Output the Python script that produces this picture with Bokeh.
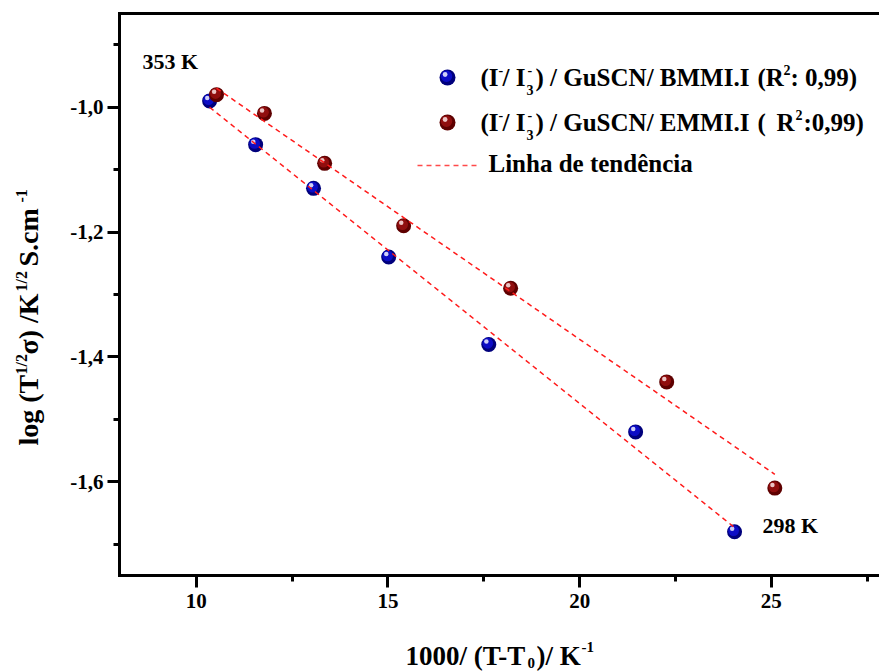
import numpy as np
from bokeh.plotting import figure
from bokeh.models import Range1d, LinearAxis, FixedTicker, Label, CustomJSTickFormatter
from bokeh.embed import file_html
from bokeh.resources import INLINE

# 1000/(T - T0) [K^-1] against log(T^1/2 sigma) for the two electrolytes
x_bmmi = [10.35, 11.55, 13.06, 15.02, 17.63, 21.46, 24.04]
y_bmmi = [-0.99, -1.06, -1.13, -1.24, -1.38, -1.52, -1.68]
x_emmi = [10.53, 11.78, 13.35, 15.41, 18.20, 22.27, 25.09]
y_emmi = [-0.98, -1.01, -1.09, -1.19, -1.29, -1.44, -1.61]

x_major = [10, 15, 20, 25]
x_minor = [12.5, 17.5, 22.5, 27.5]
y_major = [-1.0, -1.2, -1.4, -1.6]
y_minor = [-0.9, -1.1, -1.3, -1.5, -1.7]

# axis box limits
X0, X1 = 8.0, 27.82
Y0, Y1 = -1.75, -0.85

W, H = 879, 672
L, R, T, B = 119, 879, 13, 575       # axis box edges in canvas pixels
PXX = (R - L) / (X1 - X0)
PXY = (B - T) / (Y1 - Y0)

# the drawing area spans the whole canvas; axes sit at fixed positions
XS, XE = X0 - L / PXX, X1 + (W - R) / PXX
YS, YE = Y0 - (H - B) / PXY, Y1 + T / PXY

FONT = "Liberation Serif"
LIFT = 0.33                            # baseline correction, in em

p = figure(width=W, height=H, output_backend="svg", toolbar_location=None,
           x_range=Range1d(XS, XE), y_range=Range1d(YS, YE),
           min_border=0, min_border_left=0, min_border_right=0,
           min_border_top=0, min_border_bottom=0,
           x_axis_location=None, y_axis_location=None)
p.outline_line_color = None
p.background_fill_color = "white"
p.border_fill_color = "white"
p.xgrid.visible = False
p.ygrid.visible = False


def style_axis(ax):
    ax.axis_line_width = 3
    ax.axis_line_color = "black"
    ax.axis_line_cap = "square"
    ax.major_tick_line_width = 3
    ax.minor_tick_line_width = 3
    ax.major_tick_in = 0
    ax.minor_tick_in = 0
    ax.major_tick_out = 12
    ax.minor_tick_out = 6
    ax.major_label_text_font = FONT
    ax.major_label_text_font_style = "bold"
    ax.major_label_text_font_size = "21px"
    ax.major_label_text_color = "black"


xax = LinearAxis(ticker=FixedTicker(ticks=x_major, minor_ticks=x_minor),
                 fixed_location=Y0, bounds=(X0, X1))
style_axis(xax)
xax.major_label_standoff = 6
p.add_layout(xax, "below")

yax = LinearAxis(ticker=FixedTicker(ticks=y_major, minor_ticks=y_minor),
                 formatter=CustomJSTickFormatter(code="return tick.toFixed(1).replace('.', ',');"),
                 fixed_location=X0, bounds=(Y0, Y1))
style_axis(yax)
yax.major_label_standoff = 4
p.add_layout(yax, "left")

# plain top border line
top = LinearAxis(ticker=FixedTicker(ticks=[], minor_ticks=[]),
                 fixed_location=Y1, bounds=(X0, X1))
style_axis(top)
top.major_tick_out = 0
top.minor_tick_out = 0
top.major_label_standoff = 0
top.major_label_text_font_size = "0px"
p.add_layout(top, "above")


def dx(px):
    return X0 + (px - L) / PXX


def dy(py):
    return Y1 - (py - T) / PXY


def sphere(xs, ys, dark, mid, light, size=15):
    xs = np.asarray(xs, dtype=float)
    ys = np.asarray(ys, dtype=float)
    p.scatter(xs, ys, size=size, fill_color=dark, line_color=None)
    p.scatter(xs - 1.0 / PXX, ys + 1.2 / PXY, size=size * 0.72, fill_color=mid, line_color=None)
    p.scatter(xs - 2.4 / PXX, ys + 3.0 / PXY, size=size * 0.3, fill_color=light, line_color=None)


BLUE = ("#00007c", "#0c0cc6", "#cfcff7")
RED = ("#5e0000", "#900e0e", "#ecc4c4")

sphere(x_bmmi, y_bmmi, *BLUE)
sphere(x_emmi, y_emmi, *RED)

# least-squares trend lines over each series
for xs, ys in ((x_bmmi, y_bmmi), (x_emmi, y_emmi)):
    k, b = np.polyfit(xs, ys, 1)
    xe = np.array([min(xs), max(xs)])
    p.line(xe, k * xe + b, line_color="#ff1a1a", line_width=1.5, line_dash="5 4")


def put(text, px, py, size, angle=0.0):
    """Text with its baseline start at canvas pixel (px, py)."""
    if angle:
        px -= LIFT * size
    else:
        py -= LIFT * size
    p.add_layout(Label(x=px, y=py, x_units="canvas", y_units="canvas",
                       text=text, angle=angle,
                       text_font=FONT, text_font_style="bold",
                       text_font_size=f"{size}px", text_color="black",
                       text_align="left", text_baseline="alphabetic"))


# temperature annotations
put("353 K", 142, 68, 22)
put("298 K", 762, 532, 22)

# legend
sphere([dx(447)], [dy(77)], *BLUE, size=16)
sphere([dx(447)], [dy(122)], *RED, size=16)
p.line([dx(417), dx(478)], [dy(165)] * 2, line_color="#ff4a4a", line_width=1.4, line_dash="5 4")

row_1 = [("(I", 480, 85, 25), ("-", 498, 74, 14), ("/ I", 502, 85, 25),
         ("3", 526, 94, 14), ("-", 527, 74, 14), (") / GuSCN/ BMMI.I", 535, 85, 25),
         ("(R", 757, 85, 25), ("2", 783, 74, 14), (": 0,99)", 790, 85, 25)]
row_2 = [("(I", 480, 130, 25), ("-", 498, 119, 14), ("/ I", 502, 130, 25),
         ("3", 526, 139, 14), ("-", 527, 119, 14), (") / GuSCN/ EMMI.I", 535, 130, 25),
         ("(", 757, 130, 25), ("R", 776, 130, 25), ("2", 795, 119, 14), (":0,99)", 803, 130, 25)]
for seg in row_1 + row_2:
    put(*seg)
put("Linha de tendência", 488, 171, 25)

# x-axis title
for seg in [("1000/ (T-T", 405, 664, 27), ("0", 527, 667, 15),
            (")/ K", 536, 664, 27), ("-1", 581, 651, 15)]:
    put(*seg)

# y-axis title, rotated
up = np.pi / 2
for text, py, px, size in [("log (T", 445, 37, 28), ("1/2", 374, 26, 16),
                           ("σ) /K", 354, 37, 28), ("1/2", 291, 26, 16),
                           (" S.cm", 266, 37, 28), ("-1", 202, 26, 16)]:
    put(text, px, py, size, angle=up)

open("out.html", "w").write(file_html(p, INLINE))
